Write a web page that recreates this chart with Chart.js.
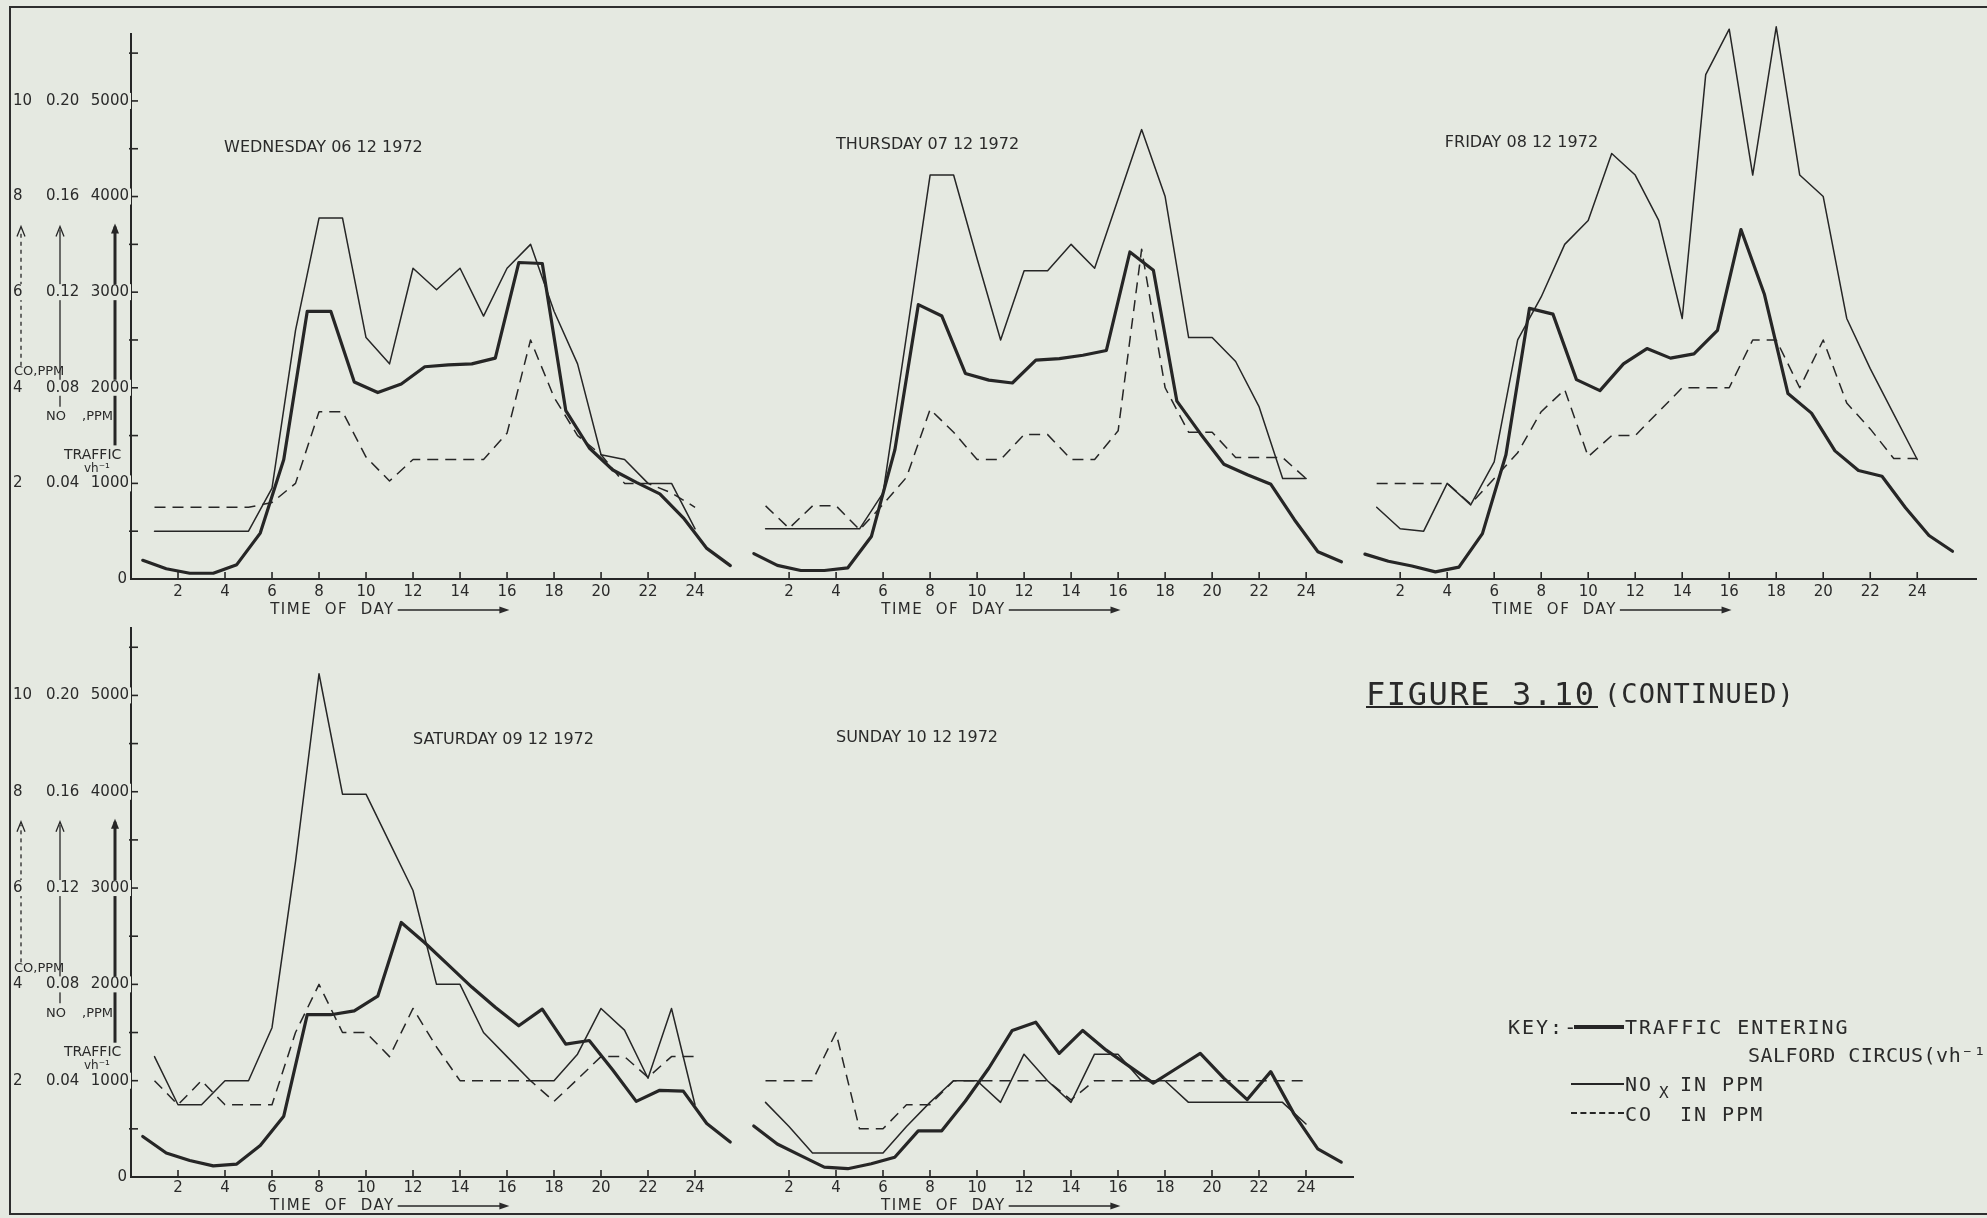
<!DOCTYPE html>
<html>
<head>
<meta charset="utf-8">
<script src="https://cdn.jsdelivr.net/npm/chart.js@4.4.1/dist/chart.umd.min.js"></script>
<style>
html,body{margin:0;padding:0;background:#e5e9e1;}
#page{position:relative;width:1987px;height:1218px;overflow:hidden;background:#e5e9e1;}
canvas{position:absolute;left:0;}
#cTop{top:0;width:1987px;height:640px;}
#cBot{top:600px;width:1987px;height:618px;}
.frame{position:absolute;left:9px;top:6px;width:2100px;height:1209px;box-sizing:border-box;border:2.5px solid #2e2e2e;border-right:none;}
.t{position:absolute;font-family:'DejaVu Sans Mono',monospace;color:#2a2a2a;white-space:nowrap;line-height:1;}
.ln{position:absolute;background:#262626;}
</style>
</head>
<body>
<div id="page">
  <div class="frame"></div>
  <canvas id="cTop" width="1987" height="640"></canvas>
  <canvas id="cBot" width="1987" height="618"></canvas>

  <div class="t" style="left:1366px;top:678px;font-size:32px;letter-spacing:1.6px;">FIGURE 3.10</div>
  <div class="ln" style="left:1366px;top:706px;width:232px;height:2px;"></div>
  <div class="t" style="left:1604px;top:680px;font-size:27px;letter-spacing:1.1px;">(CONTINUED)</div>

  <div class="t" style="left:1508px;top:1017px;font-size:20px;letter-spacing:2px;">KEY:-</div>
  <div class="ln" style="left:1574px;top:1025px;width:50px;height:3.5px;"></div>
  <div class="t" style="left:1625px;top:1017px;font-size:20px;letter-spacing:2px;">TRAFFIC ENTERING</div>
  <div class="t" style="left:1748px;top:1045px;font-size:20px;letter-spacing:0.5px;">SALFORD CIRCUS(vh⁻¹)</div>

  <div class="ln" style="left:1571px;top:1083px;width:53px;height:1.6px;"></div>
  <div class="t" style="left:1625px;top:1074px;font-size:20px;letter-spacing:2px;">NO</div>
  <div class="t" style="left:1659px;top:1085px;font-size:16px;">X</div>
  <div class="t" style="left:1680px;top:1074px;font-size:20px;letter-spacing:2px;">IN PPM</div>

  <div style="position:absolute;left:1571px;top:1112px;width:53px;height:0;border-top:2px dashed #262626;"></div>
  <div class="t" style="left:1625px;top:1104px;font-size:20px;letter-spacing:2px;">CO</div>
  <div class="t" style="left:1680px;top:1104px;font-size:20px;letter-spacing:2px;">IN PPM</div>
</div>

<script>
// ---------------- DATA ----------------
const xTickLabels = ['2','4','6','8','10','12','14','16','18','20','22','24'];
const coTicks = ['2','4','6','8','10'];
const noTicks = ['0.04','0.08','0.12','0.16','0.20'];
const trafficTicks = [1000,2000,3000,4000,5000];

const topTitles = ['WEDNESDAY 06 12 1972','THURSDAY 07 12 1972','FRIDAY 08 12 1972'];
const botTitles = ['SATURDAY 09 12 1972','SUNDAY 10 12 1972'];

// Traffic (veh/h) plotted at half hours 0.5 .. 25.5
const wedTraffic = [195,107,60,60,150,480,1250,2800,2800,2060,1950,2040,2220,2240,2250,2310,3310,3300,1760,1370,1140,1010,890,640,320,140];
// NOx (ppm) at hours 1..24
const wedNOx = [0.020,0.020,0.020,0.020,0.020,0.038,0.104,0.151,0.151,0.101,0.090,0.130,0.121,0.130,0.110,0.130,0.140,0.112,0.090,0.052,0.050,0.040,0.040,0.021];
// CO (ppm) at hours 1..24
const wedCO = [1.5,1.5,1.5,1.5,1.5,1.6,2.0,3.5,3.5,2.55,2.05,2.5,2.5,2.5,2.5,3.05,5.0,3.8,3.0,2.6,2.0,2.0,1.8,1.5];

const thuTraffic = [266,142,89,89,117,444,1350,2870,2750,2150,2080,2050,2290,2305,2340,2390,3420,3230,1860,1520,1200,1090,990,620,285,180];
const thuNOx = [0.021,0.021,0.021,0.021,0.021,0.036,0.102,0.169,0.169,0.134,0.100,0.129,0.129,0.140,0.130,0.159,0.188,0.160,0.101,0.101,0.091,0.072,0.042,0.042];
const thuCO = [1.53,1.06,1.53,1.53,1.03,1.56,2.13,3.55,3.07,2.5,2.5,3.02,3.02,2.5,2.5,3.1,6.9,4.0,3.07,3.07,2.54,2.54,2.54,2.1];

const friTraffic = [260,186,136,74,124,475,1300,2830,2770,2085,1970,2250,2410,2310,2355,2600,3655,2975,1940,1735,1340,1135,1075,745,455,290];
const friNOx = [0.030,0.021,0.020,0.040,0.031,0.049,0.100,0.118,0.140,0.150,0.178,0.169,0.150,0.109,0.211,0.230,0.169,0.231,0.169,0.160,0.109,0.088,0.069,0.050];
const friCO = [2.0,2.0,2.0,2.0,1.57,2.1,2.64,3.5,3.96,2.56,3.0,3.0,3.5,4.0,4.0,4.0,5.0,5.0,4.0,5.0,3.68,3.14,2.52,2.52];

const satTraffic = [421,249,172,115,134,326,632,1685,1685,1724,1877,2643,2432,2202,1972,1762,1570,1743,1379,1417,1111,785,900,892,555,364];
const satNOx = [0.050,0.030,0.030,0.040,0.040,0.062,0.131,0.209,0.159,0.159,0.139,0.119,0.080,0.080,0.060,0.050,0.040,0.040,0.051,0.070,0.061,0.041,0.070,0.030];
const satCO = [2.0,1.5,2.0,1.5,1.5,1.5,3.0,4.0,3.0,3.0,2.5,3.5,2.7,2.0,2.0,2.0,2.0,1.57,2.03,2.5,2.5,2.07,2.5,2.5];

const sunTraffic = [530,342,222,103,86,137,205,479,479,787,1129,1522,1607,1283,1522,1317,1146,975,1129,1283,1026,804,1094,650,291,154];
const sunNOx = [0.031,0.021,0.010,0.010,0.010,0.010,0.021,0.031,0.040,0.040,0.031,0.051,0.040,0.031,0.051,0.051,0.040,0.040,0.031,0.031,0.031,0.031,0.031,0.022];
const sunCO = [2.0,2.0,2.0,3.0,1.0,1.0,1.5,1.5,2.0,2.0,2.0,2.0,2.0,1.6,2.0,2.0,2.0,2.0,2.0,2.0,2.0,2.0,2.0,2.0];

// ---------------- RENDERING ----------------
const INK = '#262626';
const BG = '#e5e9e1';
const DAY_SPAN = 26;      // hours of axis per day panel
const TRAFFIC_MAX = 5700; // top of the vertical axis

function daySets(traffic, nox, co, d) {
  const off = d * DAY_SPAN;
  return [
    {data: traffic.map((v,i)=>({x: off + 0.5 + i, y: v})), yAxisID:'y', borderColor:INK, borderWidth:3.2, clip:false},
    {data: nox.map((v,i)=>({x: off + 1 + i, y: v})), yAxisID:'yNO', borderColor:INK, borderWidth:1.5, clip:false},
    {data: co.map((v,i)=>({x: off + 1 + i, y: v})), yAxisID:'yCO', borderColor:INK, borderWidth:1.5, borderDash:[11,7], borderCapStyle:'butt', clip:false}
  ];
}

function line(ctx,x1,y1,x2,y2){ctx.beginPath();ctx.moveTo(x1,y1);ctx.lineTo(x2,y2);ctx.stroke();}

const deco = {
  id: 'deco',
  afterDraw(chart, args, o) {
    const ctx = chart.ctx, xs = chart.scales.x, ys = chart.scales.y, a = chart.chartArea;
    ctx.save();
    ctx.strokeStyle = INK; ctx.fillStyle = INK;
    // inward tick marks
    ctx.lineWidth = 1.6;
    xs.ticks.forEach(t => { const px = xs.getPixelForValue(t.value); line(ctx, px, a.bottom + 1, px, a.bottom - 7); });
    ys.ticks.forEach(t => { if (t.value > 0) { const py = ys.getPixelForValue(t.value); line(ctx, a.left - 2, py, a.left + 7, py); } });

    // vertical unit arrows
    const p = v => ys.getPixelForValue(v);
    function arrow(x, yb, yh, w, dash, filled) {
      ctx.setLineDash(dash); ctx.lineWidth = w; line(ctx, x, yb, x, yh + 3); ctx.setLineDash([]);
      ctx.lineWidth = filled ? 2 : 1.3;
      ctx.beginPath(); ctx.moveTo(x - 4, yh + 10); ctx.lineTo(x, yh); ctx.lineTo(x + 4, yh + 10);
      if (filled) { ctx.closePath(); ctx.fill(); } else ctx.stroke();
    }
    arrow(21, p(2000) - 22, p(4000) + 30, 1.3, [4,4], false);
    arrow(60, p(2000) + 19, p(4000) + 30, 1.3, [], false);
    arrow(115, p(1000) - 38, p(4000) + 27, 3, [], true);

    // tick value columns (with paper-coloured backing so arrows break behind them)
    ctx.textBaseline = 'middle';
    ctx.font = "15px 'DejaVu Sans'";
    function bgText(s, x, y, align) {
      ctx.textAlign = align;
      const w = ctx.measureText(s).width;
      const x0 = align === 'right' ? x - w : x;
      ctx.fillStyle = BG; ctx.fillRect(x0 - 2, y - 8, w + 4, 16);
      ctx.fillStyle = '#2a2a2a'; ctx.fillText(s, x, y);
    }
    trafficTicks.forEach((v, i) => {
      const py = p(v);
      bgText(coTicks[i], 13, py, 'left');
      bgText(noTicks[i], 46, py, 'left');
      bgText(String(v), 129, py, 'right');
    });
    bgText('0', 127, p(0), 'right');

    // unit captions
    ctx.fillStyle = '#2a2a2a'; ctx.textAlign = 'left';
    ctx.font = "13px 'DejaVu Sans'";
    ctx.fillText('CO,PPM', 14, p(2000) - 16);
    ctx.fillText('NO', 46, p(2000) + 29);
    ctx.fillText(',PPM', 82, p(2000) + 29);
    ctx.font = "14px 'DejaVu Sans'";
    ctx.fillText('TRAFFIC', 64, p(1000) - 28);
    ctx.font = "12px 'DejaVu Sans'";
    ctx.fillText('vh⁻¹', 84, p(1000) - 15);

    // day titles
    ctx.font = "16px 'DejaVu Sans'";
    o.titles.forEach((t, i) => ctx.fillText(t, xs.getPixelForValue(i * DAY_SPAN + o.titleHours[i]), o.titleY[i]));

    // TIME OF DAY labels with arrows
    ctx.font = "15px 'DejaVu Sans'";
    ctx.letterSpacing = '1.5px';
    const lbl = 'TIME  OF  DAY';
    o.titles.forEach((t, d) => {
      const x0 = xs.getPixelForValue(d * DAY_SPAN + 5.92);
      ctx.fillText(lbl, x0, o.todY);
      const w = ctx.measureText(lbl).width;
      const xe = xs.getPixelForValue(d * DAY_SPAN + 16.1);
      ctx.lineWidth = 1.4; line(ctx, x0 + w + 3, o.todY, xe - 4, o.todY);
      ctx.beginPath(); ctx.moveTo(xe, o.todY); ctx.lineTo(xe - 10, o.todY - 3.5); ctx.lineTo(xe - 10, o.todY + 3.5); ctx.closePath(); ctx.fill();
    });
    ctx.letterSpacing = '0px';
    ctx.restore();
  }
};

function makeChart(id, sets, nDays, xMax, pad, xAxisH, tickPad, decoOpts) {
  const xTicks = [];
  for (let d = 0; d < nDays; d++) xTickLabels.forEach(l => xTicks.push(d * DAY_SPAN + Number(l)));
  return new Chart(document.getElementById(id), {
    type: 'line',
    data: { datasets: sets },
    plugins: [deco],
    options: {
      responsive: false, animation: false, devicePixelRatio: 1,
      layout: { padding: pad },
      elements: { point: { radius: 0, hoverRadius: 0 }, line: { tension: 0, borderJoinStyle: 'round', borderCapStyle: 'round' } },
      plugins: { legend: { display: false }, tooltip: { enabled: false }, deco: decoOpts },
      events: [],
      scales: {
        x: {
          type: 'linear', min: 0, max: xMax,
          afterBuildTicks: s => { s.ticks = xTicks.map(v => ({ value: v })); },
          ticks: { autoSkip: false, maxRotation: 0, padding: tickPad, color: '#2a2a2a',
                   font: { family: "'DejaVu Sans'", size: 15 },
                   callback: (v, i) => xTickLabels[i % xTickLabels.length] },
          grid: { display: false, drawTicks: false },
          border: { display: true, color: INK, width: 2 },
          afterFit: s => { s.height = xAxisH; }
        },
        y: {
          min: 0, max: TRAFFIC_MAX,
          afterBuildTicks: s => { const t = []; for (let v = 0; v <= 5500; v += 500) t.push({ value: v }); s.ticks = t; },
          ticks: { display: false },
          grid: { display: false, drawTicks: false },
          border: { display: true, color: INK, width: 2 },
          afterFit: s => { s.width = 131; }
        },
        yNO: { display: false, min: 0, max: TRAFFIC_MAX * 0.04 / 1000 },
        yCO: { display: false, min: 0, max: TRAFFIC_MAX * 2 / 1000 }
      }
    }
  });
}

const topSets = [].concat(
  daySets(wedTraffic, wedNOx, wedCO, 0),
  daySets(thuTraffic, thuNOx, thuCO, 1),
  daySets(friTraffic, friNOx, friCO, 2)
);
const botSets = [].concat(
  daySets(satTraffic, satNOx, satCO, 0),
  daySets(sunTraffic, sunNOx, sunCO, 1)
);

makeChart('cTop', topSets, 3, 78.5, { left: 0, top: 34, right: 11, bottom: 0 }, 61, 4,
  { titles: topTitles, titleHours: [3.96, 4.0, 3.9], titleY: [148, 145, 143], todY: 610 });
makeChart('cBot', botSets, 2, 52, { left: 0, top: 28, right: 634, bottom: 0 }, 41, 2,
  { titles: botTitles, titleHours: [12.0, 4.0], titleY: [140, 138], todY: 606 });
</script>
</body>
</html>
